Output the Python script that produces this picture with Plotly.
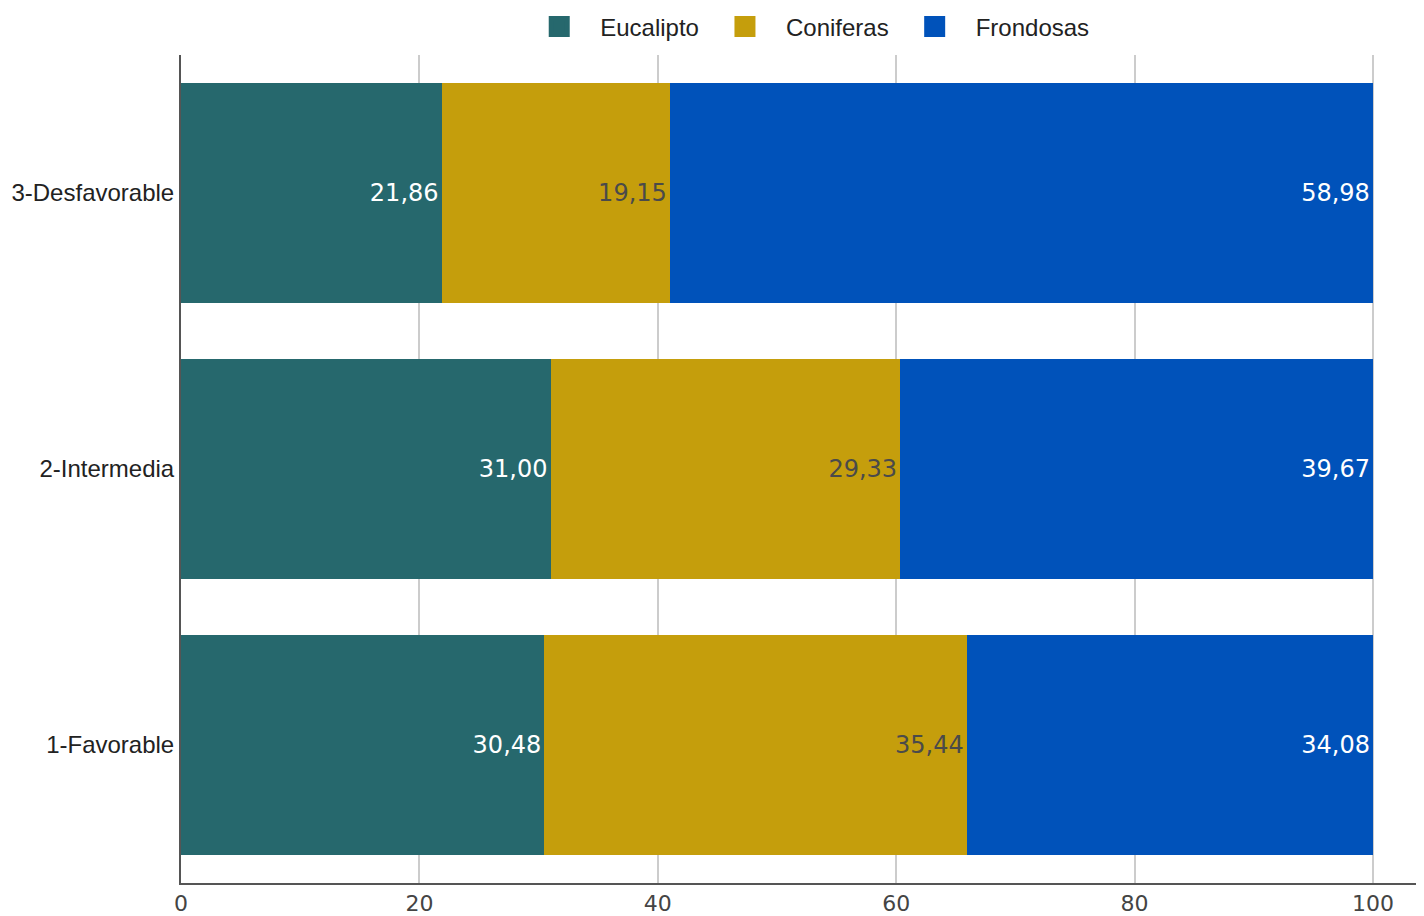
import plotly.graph_objects as go

categories = ["1-Favorable", "2-Intermedia", "3-Desfavorable"]
eucalipto = [30.48, 31.00, 21.86]
coniferas = [35.44, 29.33, 19.15]
frondosas = [34.08, 39.67, 58.98]
x_ticks = [0, 20, 40, 60, 80, 100]

series = [
    ("Eucalipto", eucalipto, "#26686d", "white"),
    ("Coniferas", coniferas, "#c59e0c", "#4a4a4a"),
    ("Frondosas", frondosas, "#0052ba", "white"),
]

fig = go.Figure()
for name, vals, color, tcolor in series:
    fig.add_trace(go.Bar(
        y=categories, x=vals, name=name, orientation="h",
        marker=dict(color=color, line=dict(width=0)),
        texttemplate="%{x:.2f}", textposition="inside",
        insidetextanchor="end",
        textfont=dict(family="DejaVu Sans", size=24, color=tcolor),
        hoverinfo="skip", showlegend=False,
    ))
# legend entries with larger square swatches
for name, vals, color, tcolor in series:
    fig.add_trace(go.Scatter(
        x=[None], y=[None], mode="markers", name=name,
        marker=dict(symbol="square", size=24, color=color,
                    line=dict(width=10, color=color)),
        showlegend=True, hoverinfo="skip",
    ))

fig.update_layout(
    barmode="stack",
    bargap=0.2,
    separators=", ",
    width=1416, height=908,
    margin=dict(l=173, r=0, t=47, b=33, autoexpand=False),
    paper_bgcolor="white", plot_bgcolor="white",
    legend=dict(
        orientation="h", x=0.503, xanchor="center", y=1.034, yanchor="middle",
        font=dict(family="Liberation Sans, Arial", size=24, color="#222"),
        itemsizing="trace", traceorder="normal", itemwidth=72,
    ),
    xaxis=dict(
        range=[0, 104.28], tickvals=x_ticks, showgrid=True,
        gridcolor="#cccccc", gridwidth=2, zeroline=False,
        showline=True, linecolor="#555555", linewidth=2,
        tickfont=dict(family="DejaVu Sans", size=22, color="#444"),
        ticks="", fixedrange=True,
    ),
    yaxis=dict(
        showgrid=False, zeroline=False, showline=True,
        linecolor="#555555", linewidth=2, ticks="",
        tickfont=dict(family="Liberation Sans, Arial", size=24, color="#222"),
        ticklabelstandoff=0,
    ),
)

fig.write_html("out.html")
